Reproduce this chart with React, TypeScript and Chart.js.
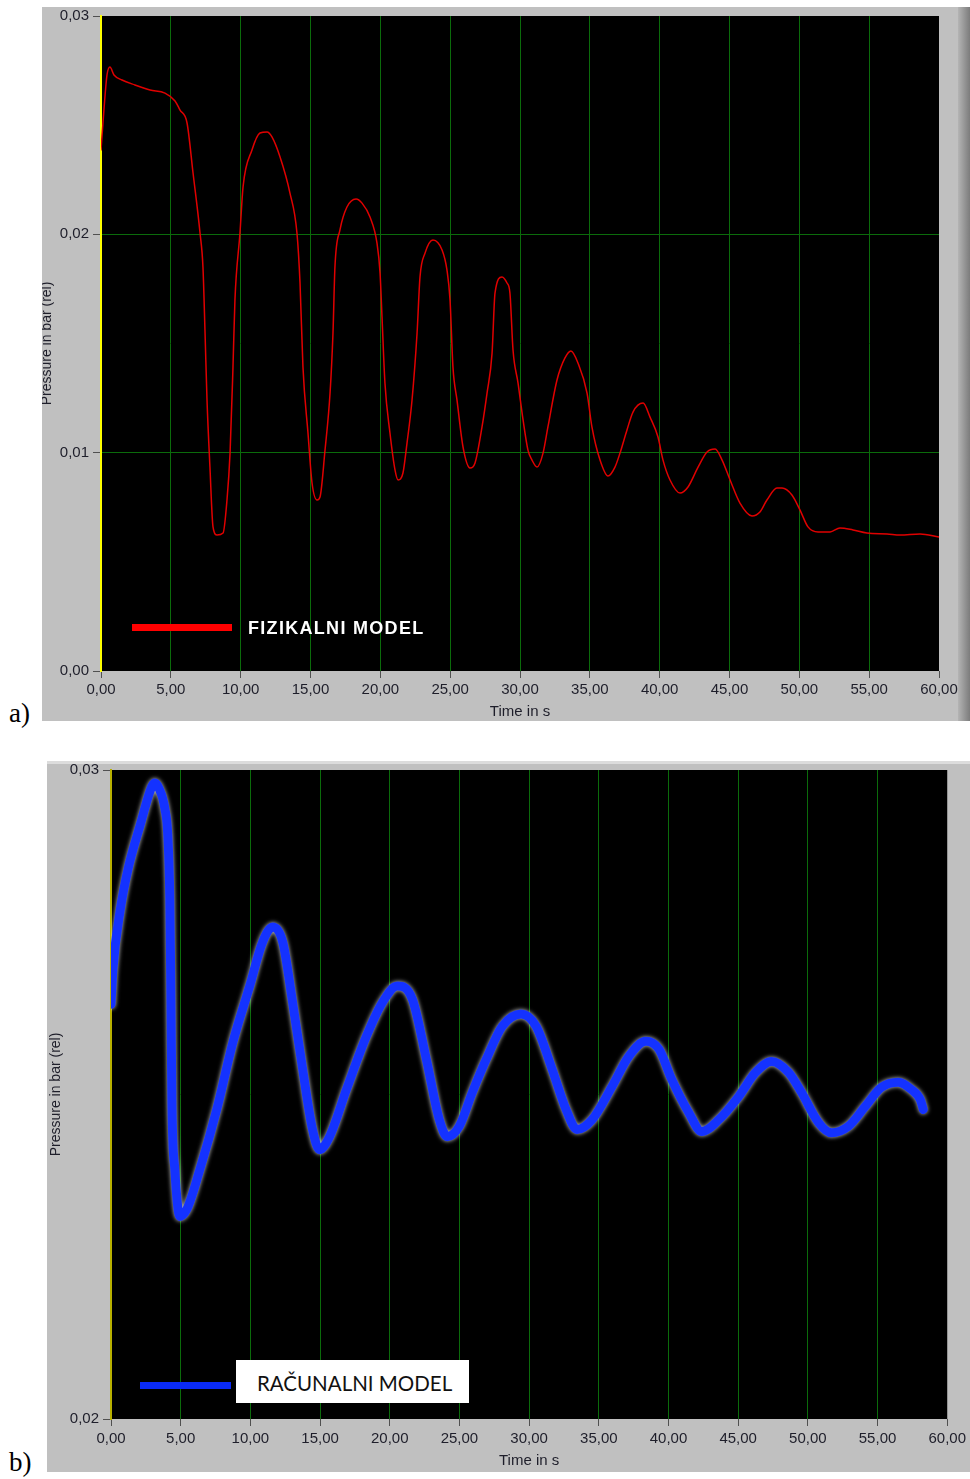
import React, { useEffect, useRef } from "react";
import { Chart, registerables } from "chart.js";

Chart.register(...registerables);

// ---------- data: chart a) physical model ----------
const timeA = [
  0, 0.21, 0.43, 0.64, 0.93, 1.5, 2.43, 3.51, 4.58, 5.3, 5.66, 6.16, 6.59, 7.09, 7.3, 7.45, 7.59, 7.8, 8.02, 8.31,
  8.74, 9.02, 9.24, 9.45, 9.59, 9.95, 10.17, 10.81, 11.38, 11.89, 12.24, 12.82, 13.53, 14.03, 14.25, 14.46, 14.82,
  15.11, 15.47, 15.68, 16.04, 16.4, 16.61, 16.75, 17.11, 17.61, 18.26, 18.69, 19.26, 19.76, 19.98, 20.12, 20.33,
  20.69, 21.05, 21.27, 21.62, 21.91, 22.27, 22.63, 22.84, 23.2, 23.77, 24.42, 24.77, 24.99, 25.2, 25.49, 25.92,
  26.42, 26.78, 27.28, 27.64, 28.0, 28.21, 28.71, 29.07, 29.28, 29.5, 29.86, 30.22, 30.57, 30.86, 31.22, 31.65,
  32.0, 32.65, 33.22, 33.65, 34.15, 34.8, 35.15, 35.73, 36.3, 36.8, 37.16, 37.66, 38.09, 38.81, 39.31, 39.88,
  40.24, 40.74, 41.46, 42.03, 42.75, 43.39, 43.97, 44.47, 45.04, 45.75, 46.61, 47.18, 47.68, 48.4, 48.76, 49.47,
  50.05, 50.62, 51.34, 52.2, 52.91, 53.84, 54.84, 56.28, 57.21, 58.64, 60,
];
const pressureA = [
  0.02386, 0.0257, 0.0273, 0.02766, 0.0273, 0.02707, 0.02684, 0.02661, 0.02647, 0.02611, 0.02569, 0.0251, 0.02281,
  0.02006, 0.0185, 0.01548, 0.01241, 0.00934, 0.0066, 0.00623, 0.00632, 0.00783, 0.00998, 0.01392, 0.01699,
  0.02006, 0.02217, 0.02386, 0.02464, 0.02469, 0.02446, 0.02354, 0.02189, 0.02006, 0.01777, 0.01392, 0.0109,
  0.00861, 0.00783, 0.00797, 0.01012, 0.01273, 0.01548, 0.0185, 0.0202, 0.02125, 0.02162, 0.02143, 0.02079,
  0.0196, 0.01823, 0.01621, 0.01319, 0.0109, 0.00921, 0.00875, 0.00907, 0.01044, 0.01241, 0.01548, 0.01805,
  0.01914, 0.01974, 0.01928, 0.01837, 0.01699, 0.01392, 0.01241, 0.01026, 0.0093, 0.00953, 0.01118, 0.01273,
  0.01456, 0.01731, 0.01805, 0.01777, 0.01731, 0.0147, 0.01319, 0.0115, 0.01012, 0.00966, 0.00934, 0.00998,
  0.01118, 0.01333, 0.01434, 0.01466, 0.01411, 0.01273, 0.01118, 0.00966, 0.00893, 0.00934, 0.00998, 0.01104,
  0.01186, 0.01227, 0.01163, 0.01072, 0.00966, 0.00875, 0.00815, 0.00843, 0.00934, 0.01003, 0.01017, 0.00966,
  0.00875, 0.00769, 0.0071, 0.00728, 0.00783, 0.00838, 0.00838, 0.00806, 0.00737, 0.0066, 0.00637, 0.00637,
  0.00655, 0.00646, 0.00632, 0.00628, 0.00623, 0.00628, 0.00614,
];

// ---------- data: chart b) computational model ----------
const timeB = [
  0, 0.14, 0.64, 1.22, 2.08, 2.94, 3.15, 3.44, 3.87, 4.08, 4.22, 4.3, 4.37, 4.58, 4.94, 5.44, 6.37, 7.59, 8.74,
  9.95, 10.88, 11.6, 12.32, 13.03, 13.75, 14.46, 14.96, 15.68, 16.9, 18.33, 19.48, 20.55, 21.62, 22.63, 23.56,
  24.13, 24.99, 25.92, 26.92, 28.07, 29.43, 30.5, 31.65, 32.65, 33.44, 34.51, 35.94, 37.16, 38.38, 39.31, 40.24,
  41.46, 42.39, 43.6, 45.04, 46.25, 47.4, 48.62, 49.55, 50.76, 51.69, 52.91, 54.13, 55.27, 56.49, 57.42, 58.07,
  58.28,
];
const pressureB = [
  0.02639, 0.02693, 0.02781, 0.02847, 0.02914, 0.02975, 0.0298, 0.02972, 0.0294, 0.02898, 0.02801, 0.02647,
  0.02488, 0.02384, 0.02312, 0.02323, 0.02384, 0.02477, 0.0258, 0.02667, 0.02735, 0.02758, 0.02735, 0.02642,
  0.02539, 0.02446, 0.02415, 0.02435, 0.02508, 0.0259, 0.02642, 0.02667, 0.02647, 0.02554, 0.02461, 0.02435,
  0.02451, 0.02503, 0.02554, 0.02605, 0.02624, 0.02605, 0.02539, 0.02477, 0.02446, 0.02461, 0.02512, 0.02559,
  0.02582, 0.0257, 0.02523, 0.02472, 0.02443, 0.02461, 0.02497, 0.02534, 0.02551, 0.02534, 0.02503, 0.02457,
  0.02441, 0.02451, 0.02482, 0.02511, 0.02519, 0.02508, 0.02492, 0.02477,
];

const seriesNameA = "FIZIKALNI MODEL";
const seriesNameB = "RAČUNALNI MODEL";
const xAxisTitle = "Time in s";
const yAxisTitle = "Pressure in bar (rel)";
const xMin = 0;
const xMax = 60;
const xStep = 5;
const yRangeA = [0, 0.03];
const yRangeB = [0.02, 0.03];
const yStep = 0.01;

const GREEN = "#0b6b0b";
const LABEL = "#1e1e2a";
const TICKC = "#505050";
const FONT = "'Liberation Sans', Arial, sans-serif";

const fmt = (v: number) => Number(v).toFixed(2).replace(".", ",");
const toPoints = (xs: number[], ys: number[]) => xs.map((x, i) => ({ x, y: ys[i] }));

const blackArea = {
  id: "blackArea",
  beforeDraw(chart: any) {
    const { ctx, chartArea } = chart;
    ctx.save();
    ctx.fillStyle = "#000";
    ctx.fillRect(chartArea.left, chartArea.top, chartArea.right - chartArea.left, chartArea.bottom - chartArea.top);
    ctx.restore();
  },
};

const glow = {
  id: "glow",
  beforeDatasetDraw(chart: any) {
    const ctx = chart.ctx;
    ctx.save();
    ctx.shadowColor = "rgba(235,235,235,0.85)";
    ctx.shadowBlur = 4;
  },
  afterDatasetDraw(chart: any) {
    chart.ctx.restore();
  },
};

function makeConfig(o: {
  xs: number[];
  ys: number[];
  color: string;
  width: number;
  tension: number;
  yRange: number[];
  yWidth: number;
  xHeight: number;
  padRight: number;
  xTickPad: number;
  xTitlePad: number;
  yTitlePad: number;
  borderColor: string;
  hGrid: boolean;
  plugins: any[];
  label: string;
}): any {
  const isEdgeX = (v: number) => v === xMin || v === xMax;
  const isEdgeY = (v: number) => Math.abs(v - o.yRange[0]) < 1e-9 || Math.abs(v - o.yRange[1]) < 1e-9;
  return {
    type: "line",
    data: {
      datasets: [
        {
          label: o.label,
          data: toPoints(o.xs, o.ys),
          borderColor: o.color,
          borderWidth: o.width,
          pointRadius: 0,
          tension: o.tension,
          cubicInterpolationMode: o.tension > 0 ? "monotone" : "default",
          fill: false,
          borderCapStyle: "round",
          borderJoinStyle: "round",
        },
      ],
    },
    options: {
      animation: false,
      responsive: false,
      maintainAspectRatio: false,
      layout: { padding: { left: 0, top: 9, right: o.padRight, bottom: 0 } },
      plugins: { legend: { display: false }, tooltip: { enabled: false } },
      scales: {
        x: {
          type: "linear",
          min: xMin,
          max: xMax,
          afterFit: (s: any) => {
            s.height = o.xHeight;
          },
          ticks: {
            stepSize: xStep,
            autoSkip: false,
            maxRotation: 0,
            padding: o.xTickPad,
            color: LABEL,
            font: { family: FONT, size: 15, lineHeight: 1.2 },
            callback: (v: any) => fmt(v),
          },
          grid: {
            color: (c: any) => (c.tick && isEdgeX(c.tick.value) ? "rgba(0,0,0,0)" : GREEN),
            tickColor: TICKC,
            tickLength: 7,
            lineWidth: 1,
          },
          border: { display: false },
          title: {
            display: true,
            text: xAxisTitle,
            color: LABEL,
            font: { family: FONT, size: 15, lineHeight: 1.2 },
            padding: { top: 0, bottom: o.xTitlePad },
          },
        },
        y: {
          type: "linear",
          min: o.yRange[0],
          max: o.yRange[1],
          afterFit: (s: any) => {
            s.width = o.yWidth;
          },
          ticks: {
            stepSize: yStep,
            padding: 4,
            color: LABEL,
            font: { family: FONT, size: 15, lineHeight: 0.6 },
            callback: (v: any) => fmt(v),
          },
          grid: {
            color: (c: any) => (!o.hGrid || (c.tick && isEdgeY(c.tick.value)) ? "rgba(0,0,0,0)" : GREEN),
            tickColor: TICKC,
            tickLength: 8,
            lineWidth: 1,
          },
          border: { display: true, color: o.borderColor, width: 2 },
          title: {
            display: true,
            text: yAxisTitle,
            color: LABEL,
            font: { family: FONT, size: 14, lineHeight: 1.2 },
            padding: { top: o.yTitlePad, bottom: 0 },
          },
        },
      },
    },
    plugins: o.plugins,
  };
}

function ChartCanvas({ config, width, height }: { config: () => any; width: number; height: number }) {
  const ref = useRef<HTMLCanvasElement>(null);
  useEffect(() => {
    const chart = new Chart(ref.current as HTMLCanvasElement, config());
    return () => chart.destroy();
  }, []);
  return (
    <canvas
      ref={ref}
      width={width}
      height={height}
      style={{ position: "absolute", left: 0, top: 0, width, height, display: "block" }}
    />
  );
}

const configA = () =>
  makeConfig({
    xs: timeA,
    ys: pressureA,
    color: "#e00000",
    width: 1.5,
    tension: 0.3,
    yRange: yRangeA,
    yWidth: 59,
    xHeight: 50,
    padRight: 31,
    xTickPad: 3,
    xTitlePad: 0,
    yTitlePad: -3,
    borderColor: "#ffff00",
    hGrid: true,
    plugins: [blackArea],
    label: seriesNameA,
  });

const configB = () =>
  makeConfig({
    xs: timeB,
    ys: pressureB,
    color: "#1432ff",
    width: 9,
    tension: 0.4,
    yRange: yRangeB,
    yWidth: 64,
    xHeight: 53,
    padRight: 21,
    xTickPad: 4,
    xTitlePad: 2,
    yTitlePad: 1,
    borderColor: "#b8b000",
    hGrid: false,
    plugins: [blackArea, glow],
    label: seriesNameB,
  });

export default function App() {
  return (
    <div style={{ position: "absolute", left: 0, top: 0, width: 970, height: 1479, background: "#fff", overflow: "hidden" }}>
      {/* panel a */}
      <div style={{ position: "absolute", left: 42, top: 7, width: 928, height: 714, background: "#c0c0c0" }}>
        <div
          style={{
            position: "absolute",
            left: 916,
            top: 0,
            width: 12,
            height: 714,
            background: "linear-gradient(to right, #b4b4b4, #7c7c7c)",
          }}
        />
        <ChartCanvas config={configA} width={928} height={714} />
      </div>
      {/* legend a */}
      <div style={{ position: "absolute", left: 132, top: 624, width: 100, height: 7, background: "#ff0000" }} />
      <div
        style={{
          position: "absolute",
          left: 248,
          top: 617,
          height: 22,
          lineHeight: "22px",
          color: "#fff",
          fontFamily: FONT,
          fontWeight: "bold",
          fontSize: 18,
          letterSpacing: 1.3,
          whiteSpace: "nowrap",
        }}
      >
        {seriesNameA}
      </div>
      <div
        style={{
          position: "absolute",
          left: 9,
          top: 698,
          fontFamily: "'Liberation Serif', 'Times New Roman', serif",
          fontSize: 27,
          lineHeight: "30px",
          color: "#000",
        }}
      >
        a)
      </div>

      {/* panel b */}
      <div style={{ position: "absolute", left: 47, top: 761, width: 923, height: 711, background: "#c0c0c0" }}>
        <div style={{ position: "absolute", left: 0, top: 0, width: 923, height: 3, background: "#dcdcdc" }} />
        <ChartCanvas config={configB} width={923} height={711} />
      </div>
      {/* legend b */}
      <div style={{ position: "absolute", left: 140, top: 1382, width: 91, height: 7, background: "#0a2af5" }} />
      <div
        style={{
          position: "absolute",
          left: 236,
          top: 1360,
          width: 233,
          height: 43,
          background: "#fff",
          boxSizing: "border-box",
          paddingLeft: 21,
          paddingTop: 4,
          lineHeight: "39px",
          fontFamily: "Lato, 'Open Sans', sans-serif",
          fontSize: 20.5,
          color: "#111",
          whiteSpace: "nowrap",
        }}
      >
        {seriesNameB}
      </div>
      <div
        style={{
          position: "absolute",
          left: 9,
          top: 1447,
          fontFamily: "'Liberation Serif', 'Times New Roman', serif",
          fontSize: 27,
          lineHeight: "30px",
          color: "#000",
        }}
      >
        b)
      </div>
    </div>
  );
}
